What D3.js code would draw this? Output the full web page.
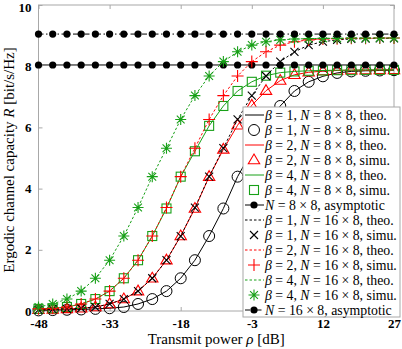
<!DOCTYPE html>
<html>
<head>
<meta charset="utf-8">
<script src="https://cdn.jsdelivr.net/npm/d3@7"></script>
<style>
  body { margin: 0; background: #fff; }
  text { font-family: 'Liberation Serif', 'Times New Roman', serif; }
</style>
</head>
<body>
<div id="chart"></div>
<script>
// transmit power [dB], one point every 3 dB
var power = [-48, -45, -42, -39, -36, -33, -30, -27, -24, -21, -18, -15, -12,
  -9, -6, -3, 0, 3, 6, 9, 12, 15, 18, 21, 24, 27]

var xTicks = [-48, -33, -18, -3, 12, 27]
var yTicks = [0, 2, 4, 6, 8, 10]

// N = 8 x 8
var rateB1N8 = [0.02, 0.03, 0.04, 0.05, 0.07, 0.09, 0.13, 0.23, 0.39, 0.65, 1.07, 1.66, 2.45,
  3.35, 4.39, 5.22, 6.05, 6.7, 7.19, 7.49, 7.67, 7.78, 7.83, 7.85, 7.86, 7.87]
var rateB2N8 = [0.04, 0.05, 0.07, 0.09, 0.13, 0.23, 0.39, 0.65, 1.07, 1.66, 2.45, 3.35, 4.39,
  5.28, 6.07, 6.72, 7.2, 7.53, 7.72, 7.8, 7.84, 7.86, 7.87, 7.87, 7.88, 7.88]
var rateB4N8 = [0.07, 0.09, 0.13, 0.23, 0.39, 0.65, 1.07, 1.66, 2.45, 3.35, 4.39, 5.22, 6.05,
  6.7, 7.19, 7.49, 7.69, 7.79, 7.83, 7.85, 7.86, 7.87, 7.87, 7.88, 7.88, 7.88]
var asymN8 = 8.04

// N = 16 x 8
var rateB1N16 = [0.04, 0.05, 0.07, 0.09, 0.13, 0.23, 0.39, 0.65, 1.07, 1.66, 2.45, 3.38, 4.39,
  5.32, 6.26, 7.04, 7.68, 8.15, 8.47, 8.69, 8.8, 8.86, 8.89, 8.9, 8.91, 8.91]
var rateB2N16 = [0.07, 0.09, 0.13, 0.23, 0.39, 0.65, 1.07, 1.66, 2.45, 3.38, 4.39, 5.32, 6.26,
  7.04, 7.68, 8.15, 8.47, 8.69, 8.8, 8.86, 8.89, 8.9, 8.91, 8.91, 8.92, 8.92]
var rateB4N16 = [0.13, 0.23, 0.39, 0.65, 1.07, 1.66, 2.45, 3.38, 4.39, 5.32, 6.26, 7.04, 7.68,
  8.15, 8.47, 8.69, 8.8, 8.86, 8.89, 8.9, 8.91, 8.91, 8.92, 8.92, 8.92, 8.92]
var asymN16 = 9.05

var green = 'rgb(24,160,24)'

// legend order = drawing order
var series = [
  { beta: '1', n: '8', kind: 'theo', values: rateB1N8, color: 'black', dash: null },
  { beta: '1', n: '8', kind: 'simu', values: rateB1N8, color: 'black', marker: 'circle' },
  { beta: '2', n: '8', kind: 'theo', values: rateB2N8, color: 'red', dash: null },
  { beta: '2', n: '8', kind: 'simu', values: rateB2N8, color: 'red', marker: 'triangle' },
  { beta: '4', n: '8', kind: 'theo', values: rateB4N8, color: green, dash: null },
  { beta: '4', n: '8', kind: 'simu', values: rateB4N8, color: green, marker: 'square' },
  { n: '8', kind: 'asym', level: asymN8, color: 'black', dash: null, marker: 'dot' },
  { beta: '1', n: '16', kind: 'theo', values: rateB1N16, color: 'black', dash: '2.5,2' },
  { beta: '1', n: '16', kind: 'simu', values: rateB1N16, color: 'black', marker: 'x' },
  { beta: '2', n: '16', kind: 'theo', values: rateB2N16, color: 'red', dash: '2.5,2' },
  { beta: '2', n: '16', kind: 'simu', values: rateB2N16, color: 'red', marker: 'plus' },
  { beta: '4', n: '16', kind: 'theo', values: rateB4N16, color: green, dash: '2.5,2' },
  { beta: '4', n: '16', kind: 'simu', values: rateB4N16, color: green, marker: 'star' },
  { n: '16', kind: 'asym', level: asymN16, color: 'black', dash: '5,2.5,1.5,2.5', marker: 'dot' }
]

var width = 402
var height = 349
var plot = { left: 38.5, right: 394, top: 5, bottom: 311 }

var svg = d3.select('#chart')
  .append('svg')
  .attr('width', width)
  .attr('height', height)

var xPositionScale = d3.scaleLinear().domain([-48, 27]).range([plot.left, plot.right])
var yPositionScale = d3.scaleLinear().domain([0, 10]).range([plot.bottom, plot.top])

// axes box, ticks inward like matlab
var axisColor = '#a8a8a8'
svg.append('rect')
  .attr('x', plot.left)
  .attr('y', plot.top)
  .attr('width', plot.right - plot.left)
  .attr('height', plot.bottom - plot.top)
  .attr('fill', 'none')
  .attr('stroke', axisColor)
  .attr('stroke-width', 1)

var plainNumber = function(d) { return String(d) }
var xAxis = d3.axisBottom(xPositionScale).tickValues(xTicks).tickSize(-4).tickPadding(8)
  .tickFormat(plainNumber)
var xAxisTop = d3.axisTop(xPositionScale).tickValues(xTicks).tickSize(-4).tickFormat('')
var yAxis = d3.axisLeft(yPositionScale).tickValues(yTicks).tickSize(-4).tickPadding(7)
  .tickFormat(plainNumber)
var yAxisRight = d3.axisRight(yPositionScale).tickValues(yTicks).tickSize(-4).tickFormat('')

function styleAxis(g) {
  g.attr('font-family', null)
  g.select('.domain').remove()
  g.selectAll('line').attr('stroke', axisColor)
  g.selectAll('text')
    .attr('fill', 'black')
    .attr('font-size', 13)
    .attr('font-weight', 'bold')
    .attr('font-family', "'Liberation Serif', serif")
}

svg.append('g').attr('transform', `translate(0, ${plot.bottom})`).call(xAxis).call(styleAxis)
svg.append('g').attr('transform', `translate(0, ${plot.top})`).call(xAxisTop).call(styleAxis)
var yAxisG = svg.append('g').attr('transform', `translate(${plot.left}, 0)`).call(yAxis).call(styleAxis)
svg.append('g').attr('transform', `translate(${plot.right}, 0)`).call(yAxisRight).call(styleAxis)

// keep the top label inside the picture
yAxisG.selectAll('.tick text').filter(function(d) { return d === 10 }).attr('dy', '0.5em')

// markers
function drawMarker(g, type, cx, cy, color) {
  if (type === 'circle') {
    g.append('circle').attr('cx', cx).attr('cy', cy).attr('r', 5.5)
      .attr('fill', 'none').attr('stroke', color).attr('stroke-width', 1)
  } else if (type === 'dot') {
    g.append('circle').attr('cx', cx).attr('cy', cy).attr('r', 3.6)
      .attr('fill', color)
  } else if (type === 'triangle') {
    var s = 6
    g.append('path')
      .attr('d', `M${cx},${cy - s} L${cx + s * 0.95},${cy + s * 0.62} L${cx - s * 0.95},${cy + s * 0.62} Z`)
      .attr('fill', 'none').attr('stroke', color).attr('stroke-width', 1.1)
  } else if (type === 'square') {
    g.append('rect').attr('x', cx - 4.5).attr('y', cy - 4.5).attr('width', 9).attr('height', 9)
      .attr('fill', 'none').attr('stroke', color).attr('stroke-width', 1.1)
  } else if (type === 'x') {
    var a = 4
    g.append('path')
      .attr('d', `M${cx - a},${cy - a} L${cx + a},${cy + a} M${cx - a},${cy + a} L${cx + a},${cy - a}`)
      .attr('stroke', color).attr('stroke-width', 1.1)
  } else if (type === 'plus') {
    var p = 6
    g.append('path')
      .attr('d', `M${cx - p},${cy} L${cx + p},${cy} M${cx},${cy - p} L${cx},${cy + p}`)
      .attr('stroke', color).attr('stroke-width', 1.1)
  } else if (type === 'star') {
    var r = 5.5
    var q = 3.9
    g.append('path')
      .attr('d', `M${cx - r},${cy} L${cx + r},${cy} M${cx},${cy - r} L${cx},${cy + r}` +
        ` M${cx - q},${cy - q} L${cx + q},${cy + q} M${cx - q},${cy + q} L${cx + q},${cy - q}`)
      .attr('stroke', color).attr('stroke-width', 1.1)
  }
}

var line = d3.line()
  .x(function(d, i) { return xPositionScale(power[i]) })
  .y(function(d) { return yPositionScale(d) })

var marks = svg.append('g')

series.forEach(function(s) {
  if (s.kind === 'theo') {
    marks.append('path')
      .datum(s.values)
      .attr('d', line)
      .attr('fill', 'none')
      .attr('stroke', s.color)
      .attr('stroke-width', 1)
      .attr('stroke-dasharray', s.dash)
  } else if (s.kind === 'simu') {
    s.values.forEach(function(v, i) {
      drawMarker(marks, s.marker, xPositionScale(power[i]), yPositionScale(v), s.color)
    })
  } else {
    marks.append('line')
      .attr('x1', xPositionScale(power[0]))
      .attr('x2', xPositionScale(power[power.length - 1]))
      .attr('y1', yPositionScale(s.level))
      .attr('y2', yPositionScale(s.level))
      .attr('stroke', s.color)
      .attr('stroke-width', 1)
      .attr('stroke-dasharray', s.dash)
    power.forEach(function(p) {
      drawMarker(marks, 'dot', xPositionScale(p), yPositionScale(s.level), s.color)
    })
  }
})

// legend
var legend = svg.append('g').attr('transform', 'translate(243, 107)')
var rowHeight = 15
legend.append('rect')
  .attr('x', 0)
  .attr('y', 0)
  .attr('width', 157)
  .attr('height', rowHeight * series.length)
  .attr('fill', 'white')
  .attr('stroke', axisColor)
  .attr('stroke-width', 1)

series.forEach(function(s, i) {
  var cy = rowHeight * i + 8
  var row = legend.append('g')
  if (s.kind !== 'simu') {
    row.append('line')
      .attr('x1', 2).attr('x2', 21)
      .attr('y1', cy).attr('y2', cy)
      .attr('stroke', s.color)
      .attr('stroke-width', 1)
      .attr('stroke-dasharray', s.dash)
  }
  if (s.marker) {
    drawMarker(row, s.marker, 11, cy, s.color)
  }
  var t = row.append('text')
    .attr('x', 22)
    .attr('y', cy + 4.5)
    .attr('font-size', 13.8)
    .attr('fill', 'black')
  if (s.kind === 'asym') {
    t.append('tspan').attr('font-style', 'italic').text('N')
    t.append('tspan').text(' = ' + s.n + ' \u00d7 8, asymptotic')
  } else {
    t.append('tspan').attr('font-style', 'italic').text('\u03b2')
    t.append('tspan').text(' = ' + s.beta + ', ')
    t.append('tspan').attr('font-style', 'italic').text('N')
    t.append('tspan').text(' = ' + s.n + ' \u00d7 8, ' + s.kind + '.')
  }
})

// axis labels
var xLabel = svg.append('text')
  .attr('x', (plot.left + plot.right) / 2)
  .attr('y', 344)
  .attr('text-anchor', 'middle')
  .attr('font-size', 15)
xLabel.append('tspan').text('Transmit power ')
xLabel.append('tspan').attr('font-style', 'italic').text('\u03c1')
xLabel.append('tspan').text(' [dB]')

var yLabel = svg.append('text')
  .attr('transform', 'translate(14, 160) rotate(-90)')
  .attr('text-anchor', 'middle')
  .attr('font-size', 15)
yLabel.append('tspan').text('Ergodic channel capacity ')
yLabel.append('tspan').attr('font-style', 'italic').text('R')
yLabel.append('tspan').text(' [bit/s/Hz]')
</script>
</body>
</html>
